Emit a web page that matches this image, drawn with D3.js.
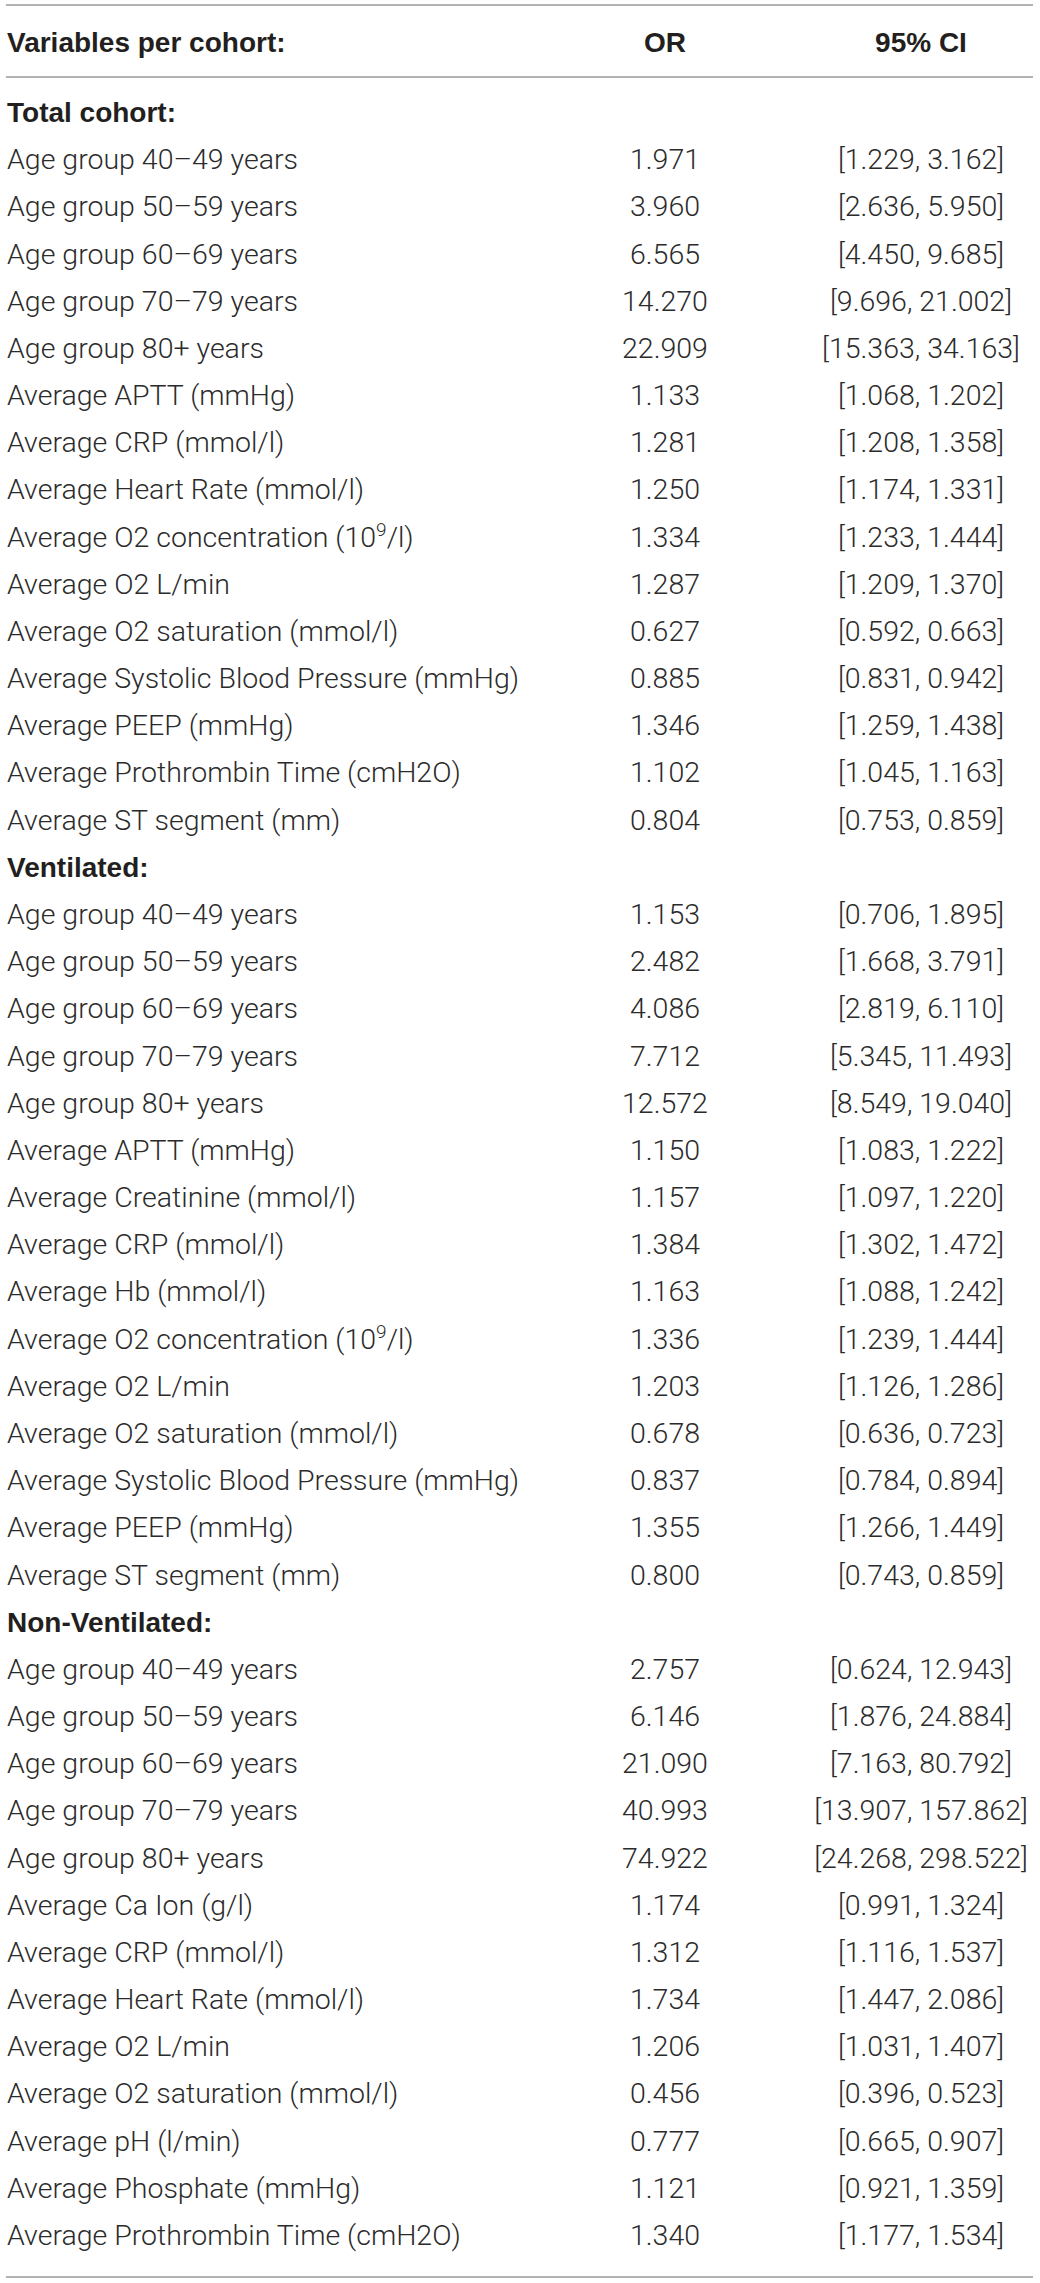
<!DOCTYPE html>
<html>
<head>
<meta charset="utf-8">
<script src="https://cdn.jsdelivr.net/npm/d3@7"></script>
<style>
  body { margin: 0; background: #fff; }
  text { font-family: Roboto, "Liberation Sans", sans-serif; }
  text.bold { font-family: "Liberation Sans", Arial, sans-serif; font-weight: bold; }
</style>
</head>
<body>
<div id="table-container"></div>
<script>
// column headers
const headers = ["Variables per cohort:", "OR", "95% CI"];
const cohorts = ["Total cohort:", "Ventilated:", "Non-Ventilated:"];

// Total cohort
const totalLabels = [
  "Age group 40–49 years", "Age group 50–59 years", "Age group 60–69 years",
  "Age group 70–79 years", "Age group 80+ years", "Average APTT (mmHg)",
  "Average CRP (mmol/l)", "Average Heart Rate (mmol/l)", "Average O2 concentration (10^9/l)",
  "Average O2 L/min", "Average O2 saturation (mmol/l)", "Average Systolic Blood Pressure (mmHg)",
  "Average PEEP (mmHg)", "Average Prothrombin Time (cmH2O)", "Average ST segment (mm)"
];
const totalOR = [1.971, 3.960, 6.565, 14.270, 22.909, 1.133, 1.281, 1.250, 1.334, 1.287, 0.627, 0.885, 1.346, 1.102, 0.804];
const totalLow = [1.229, 2.636, 4.450, 9.696, 15.363, 1.068, 1.208, 1.174, 1.233, 1.209, 0.592, 0.831, 1.259, 1.045, 0.753];
const totalHigh = [3.162, 5.950, 9.685, 21.002, 34.163, 1.202, 1.358, 1.331, 1.444, 1.370, 0.663, 0.942, 1.438, 1.163, 0.859];

// Ventilated
const ventLabels = [
  "Age group 40–49 years", "Age group 50–59 years", "Age group 60–69 years",
  "Age group 70–79 years", "Age group 80+ years", "Average APTT (mmHg)",
  "Average Creatinine (mmol/l)", "Average CRP (mmol/l)", "Average Hb (mmol/l)",
  "Average O2 concentration (10^9/l)", "Average O2 L/min", "Average O2 saturation (mmol/l)",
  "Average Systolic Blood Pressure (mmHg)", "Average PEEP (mmHg)", "Average ST segment (mm)"
];
const ventOR = [1.153, 2.482, 4.086, 7.712, 12.572, 1.150, 1.157, 1.384, 1.163, 1.336, 1.203, 0.678, 0.837, 1.355, 0.800];
const ventLow = [0.706, 1.668, 2.819, 5.345, 8.549, 1.083, 1.097, 1.302, 1.088, 1.239, 1.126, 0.636, 0.784, 1.266, 0.743];
const ventHigh = [1.895, 3.791, 6.110, 11.493, 19.040, 1.222, 1.220, 1.472, 1.242, 1.444, 1.286, 0.723, 0.894, 1.449, 0.859];

// Non-ventilated
const nonVentLabels = [
  "Age group 40–49 years", "Age group 50–59 years", "Age group 60–69 years",
  "Age group 70–79 years", "Age group 80+ years", "Average Ca Ion (g/l)",
  "Average CRP (mmol/l)", "Average Heart Rate (mmol/l)", "Average O2 L/min",
  "Average O2 saturation (mmol/l)", "Average pH (l/min)", "Average Phosphate (mmHg)",
  "Average Prothrombin Time (cmH2O)"
];
const nonVentOR = [2.757, 6.146, 21.090, 40.993, 74.922, 1.174, 1.312, 1.734, 1.206, 0.456, 0.777, 1.121, 1.340];
const nonVentLow = [0.624, 1.876, 7.163, 13.907, 24.268, 0.991, 1.116, 1.447, 1.031, 0.396, 0.665, 0.921, 1.177];
const nonVentHigh = [12.943, 24.884, 80.792, 157.862, 298.522, 1.324, 1.537, 2.086, 1.407, 0.523, 0.907, 1.359, 1.534];

const width = 1040, height = 2283;
const fmt = d3.format(".3f");

// flatten into table rows
const groups = [
  [totalLabels, totalOR, totalLow, totalHigh],
  [ventLabels, ventOR, ventLow, ventHigh],
  [nonVentLabels, nonVentOR, nonVentLow, nonVentHigh]
];
const rows = [];
groups.forEach((g, gi) => {
  rows.push({ label: cohorts[gi], bold: true });
  g[0].forEach((lab, i) => rows.push({
    label: lab, or: fmt(g[1][i]), ci: `[${fmt(g[2][i])}, ${fmt(g[3][i])}]`
  }));
});

const svg = d3.select("#table-container").append("svg")
    .attr("width", width)
    .attr("height", height);

// column positions
const cols = ["label", "or", "ci"];
const x = d3.scaleOrdinal()
  .domain(cols)
  .range([7, 665, 921]);

// row baselines
const y = d3.scaleLinear()
  .domain([0, rows.length - 1])
  .range([122, 2245]);

// rules
const rules = [5, 77, 2277];
svg.selectAll(".rule")
  .data(rules)
  .enter().append("line")
    .attr("class", "rule")
    .attr("x1", 6)
    .attr("x2", 1033)
    .attr("y1", d => d)
    .attr("y2", d => d)
    .attr("stroke", "#9a9a9a")
    .attr("stroke-width", 1.6);

// header
svg.selectAll(".head")
  .data(headers)
  .enter().append("text")
    .attr("class", "head bold")
    .attr("x", (d, i) => x(cols[i]))
    .attr("y", 52)
    .attr("text-anchor", (d, i) => i === 0 ? "start" : "middle")
    .attr("font-size", 28)
    .attr("fill", "#231f20")
    .text(d => d);

// body rows
const rowG = svg.selectAll(".row")
  .data(rows)
  .enter().append("g")
    .attr("class", "row")
    .attr("transform", (d, i) => `translate(0,${y(i)})`);

rowG.append("text")
    .attr("class", d => d.bold ? "bold" : null)
    .attr("x", x("label"))
    .attr("font-size", d => d.bold ? 28 : 28.5)
    .attr("font-weight", d => d.bold ? "bold" : 300)
    .attr("fill", d => d.bold ? "#231f20" : "#2b2b2b")
    .each(function(d) {
      const t = d3.select(this);
      if (d.label.includes("^")) {
        // superscript exponent, e.g. 10^9
        const [pre, rest] = d.label.split("^");
        t.append("tspan").text(pre);
        t.append("tspan").attr("dy", -11).attr("font-size", 19).text(rest.slice(0, 1));
        t.append("tspan").attr("dy", 11).text(rest.slice(1));
      } else {
        t.text(d.label);
      }
    });

rowG.filter(d => !d.bold).append("text")
    .attr("x", x("or"))
    .attr("text-anchor", "middle")
    .attr("font-size", 28.5)
    .attr("font-weight", 300)
    .attr("fill", "#2b2b2b")
    .text(d => d.or);

rowG.filter(d => !d.bold).append("text")
    .attr("x", x("ci"))
    .attr("text-anchor", "middle")
    .attr("font-size", 28.5)
    .attr("font-weight", 300)
    .attr("fill", "#2b2b2b")
    .text(d => d.ci);
</script>
</body>
</html>
